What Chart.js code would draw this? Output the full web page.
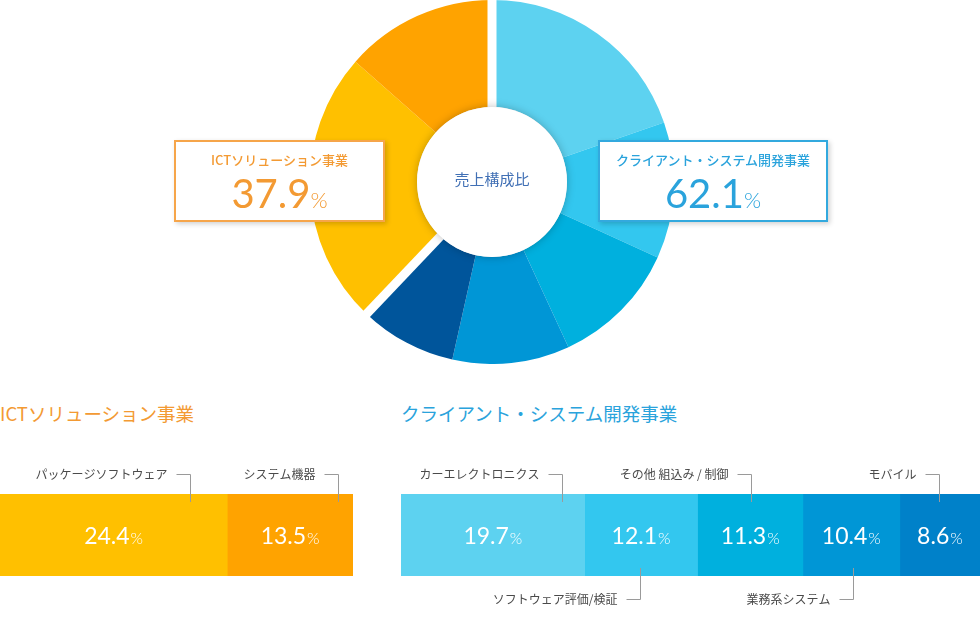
<!DOCTYPE html>
<html lang="ja">
<head>
<meta charset="utf-8">
<title>売上構成比</title>
<script src="https://cdn.jsdelivr.net/npm/chart.js@4.4.1/dist/chart.umd.min.js"></script>
<style>
  body { margin: 0; background: #fff; font-family: "Noto Sans CJK JP", sans-serif; }
  #page { position: relative; width: 980px; height: 626px; overflow: hidden; }
  .abs { position: absolute; }
  #pieWrap { left: 310px; top: 0; width: 364px; height: 364px; }
  #ictWrap { left: 0; top: 455px; width: 353px; height: 160px; }
  #cliWrap { left: 401px; top: 455px; width: 579px; height: 160px; }
  #centerText { left: 417px; top: 169px; width: 150px; text-align: center; font-size: 15px; color: #4170b5; line-height: 20px; }
  .box { top: 140px; background: #fff; border: 2px solid; box-shadow: 2px 2px 5px rgba(0,0,0,0.18); text-align: center; box-sizing: border-box; height: 82px; }
  .box .lbl { font-size: 13px; font-weight: 500; margin-top: 9px; line-height: 18px; }
  .box .num { font-family: Lato, sans-serif; font-weight: 400; font-size: 40px; line-height: 46px; margin-top: 1px; }
  .box .num small { font-size: 22px; font-weight: 300; }
  #ictBox { left: 174px; width: 211px; border-color: #f6a54a; color: #f39a33; }
  #cliBox { left: 598px; width: 230px; border-color: #33a9de; color: #2aa3dc; }
  .title { top: 400px; font-size: 18.5px; font-weight: 400; line-height: 26px; }
  #ictTitle { left: 0; color: #f39a33; }
  #cliTitle { left: 401px; color: #2aa3dc; }
</style>
</head>
<body>
<div id="page">
  <div class="abs" id="pieWrap"><canvas id="pie"></canvas></div>
  <div class="abs" id="centerText">売上構成比</div>
  <div class="abs box" id="ictBox"><div class="lbl" id="ictBoxLbl"></div><div class="num" id="ictBoxNum"></div></div>
  <div class="abs box" id="cliBox"><div class="lbl" id="cliBoxLbl"></div><div class="num" id="cliBoxNum"></div></div>
  <div class="abs title" id="ictTitle"></div>
  <div class="abs title" id="cliTitle"></div>
  <div class="abs" id="ictWrap"><canvas id="ict"></canvas></div>
  <div class="abs" id="cliWrap"><canvas id="cli"></canvas></div>
</div>
<script>
// data
const groupLabels = ['ICTソリューション事業', 'クライアント・システム開発事業'];
const ictLabels = ['パッケージソフトウェア', 'システム機器'];
const ictValues = [24.4, 13.5];
const cliLabels = ['カーエレクトロニクス', 'ソフトウェア評価/検証', 'その他 組込み / 制御', '業務系システム', 'モバイル'];
const cliValues = [19.7, 12.1, 11.3, 10.4, 8.6];

// styles
const ictColors = ['#ffc000', '#ffa300'];
const cliBarColors = ['#5dd2f0', '#33c7ef', '#00b0de', '#0096d6', '#0081c9'];
const cliPieColors = ['#5dd2f0', '#33c7ef', '#00b0de', '#0096d6', '#00559b'];
const ictCallouts = [{ side: 'top', offset: 37 }, { side: 'top', offset: 15 }];
const cliCallouts = [
  { side: 'top', offset: 23 }, { side: 'bottom', offset: 57 }, { side: 'top', offset: 52 },
  { side: 'bottom', offset: 47 }, { side: 'top', offset: 41 }
];

const sum = a => a.reduce((s, v) => s + v, 0);
const ictTotal = +sum(ictValues).toFixed(1);
const cliTotal = +sum(cliValues).toFixed(1);

document.getElementById('ictBoxLbl').textContent = groupLabels[0];
document.getElementById('cliBoxLbl').textContent = groupLabels[1];
document.getElementById('ictBoxNum').innerHTML = ictTotal.toFixed(1) + '<small>%</small>';
document.getElementById('cliBoxNum').innerHTML = cliTotal.toFixed(1) + '<small>%</small>';
document.getElementById('ictTitle').textContent = groupLabels[0];
document.getElementById('cliTitle').textContent = groupLabels[1];

// white gaps between the two groups + center disc
const pieDecor = {
  id: 'pieDecor',
  afterDatasetsDraw(chart) {
    const ctx = chart.ctx;
    const arcs = chart.getDatasetMeta(0).data;
    const p = arcs[0].getProps(['x', 'y', 'outerRadius', 'innerRadius'], true);
    ctx.save();
    ctx.strokeStyle = '#fff';
    ctx.lineWidth = 9;
    [0, cliValues.length].forEach(i => {
      const a = arcs[i].startAngle;
      ctx.beginPath();
      ctx.moveTo(p.x, p.y);
      ctx.lineTo(p.x + Math.cos(a) * (p.outerRadius + 3), p.y + Math.sin(a) * (p.outerRadius + 3));
      ctx.stroke();
    });
    ctx.shadowColor = 'rgba(0,0,0,0.25)';
    ctx.shadowBlur = 9;
    ctx.fillStyle = '#fff';
    ctx.beginPath();
    ctx.arc(p.x, p.y, p.innerRadius, 0, Math.PI * 2);
    ctx.fill();
    ctx.restore();
  }
};

new Chart(document.getElementById('pie'), {
  type: 'doughnut',
  data: {
    labels: cliLabels.concat(ictLabels),
    datasets: [{
      data: cliValues.concat(ictValues),
      backgroundColor: cliPieColors.concat(ictColors),
      borderWidth: 0
    }]
  },
  options: {
    responsive: true,
    maintainAspectRatio: false,
    animation: false,
    cutout: '41.2%',
    plugins: { legend: { display: false }, tooltip: { enabled: false } }
  },
  plugins: [pieDecor]
});

// value labels inside bars + callout labels with bracket lines
const barDecor = {
  id: 'barDecor',
  afterDatasetsDraw(chart, args, opts) {
    const ctx = chart.ctx;
    const area = chart.chartArea;
    ctx.save();
    chart.data.datasets.forEach((ds, i) => {
      const el = chart.getDatasetMeta(i).data[0];
      const left = el.base, right = el.x;
      const cx = (left + right) / 2, cy = el.y + 2;
      // value
      const num = ds.data[0].toFixed(1);
      ctx.fillStyle = '#fff';
      ctx.textBaseline = 'middle';
      ctx.font = '400 23px Lato';
      const nw = ctx.measureText(num).width;
      ctx.font = '300 16px Lato';
      const pw = ctx.measureText('%').width;
      const sx = cx - (nw + pw + 1) / 2;
      ctx.textAlign = 'left';
      ctx.font = '400 23px Lato';
      ctx.fillText(num, sx, cy);
      ctx.font = '300 16px Lato';
      ctx.fillText('%', sx + nw + 1, cy + 2);
      // callout
      const c = opts.callouts[i];
      const lx = Math.round(right - c.offset) + 0.5;
      const ty = c.side === 'top' ? 19.5 : 144.5;
      const ey = c.side === 'top' ? area.top + 8 : area.bottom - 8;
      ctx.strokeStyle = '#9a9a9a';
      ctx.lineWidth = 1;
      ctx.beginPath();
      ctx.moveTo(lx - 14, ty);
      ctx.lineTo(lx, ty);
      ctx.lineTo(lx, ey);
      ctx.stroke();
      ctx.fillStyle = '#4a4a4a';
      ctx.font = '12px "Noto Sans CJK JP"';
      ctx.textAlign = 'right';
      ctx.fillText(ds.label, lx - 23, ty);
    });
    ctx.restore();
  }
};

function barChart(id, labels, values, colors, callouts, total) {
  return new Chart(document.getElementById(id), {
    type: 'bar',
    data: {
      labels: [''],
      datasets: labels.map((l, i) => ({
        label: l,
        data: [values[i]],
        backgroundColor: colors[i],
        borderWidth: 0,
        barPercentage: 1,
        categoryPercentage: 1
      }))
    },
    options: {
      indexAxis: 'y',
      responsive: true,
      maintainAspectRatio: false,
      animation: false,
      layout: { padding: { top: 39, bottom: 39, left: 0, right: 0 } },
      scales: {
        x: { stacked: true, display: false, min: 0, max: total },
        y: { stacked: true, display: false }
      },
      plugins: { legend: { display: false }, tooltip: { enabled: false }, barDecor: { callouts } }
    },
    plugins: [barDecor]
  });
}

barChart('ict', ictLabels, ictValues, ictColors, ictCallouts, ictTotal);
barChart('cli', cliLabels, cliValues, cliBarColors, cliCallouts, cliTotal);
</script>
</body>
</html>
